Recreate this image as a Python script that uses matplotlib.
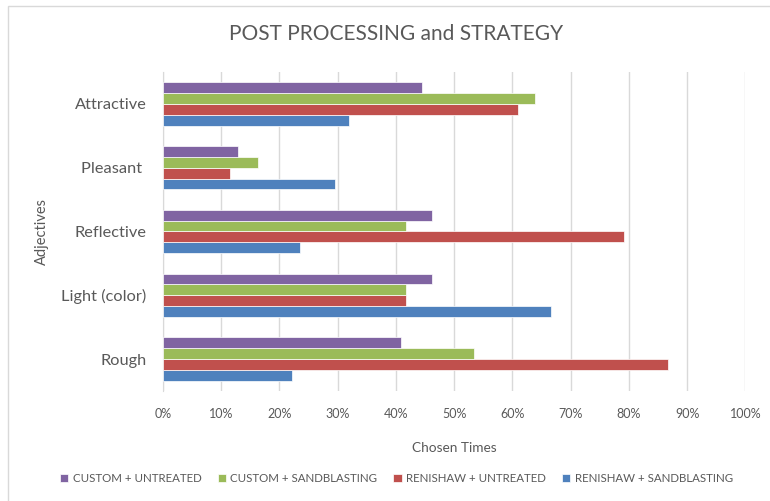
import matplotlib
matplotlib.use('Agg')
import matplotlib.pyplot as plt
from matplotlib.patches import Rectangle
import numpy as np

plt.rcParams['font.family'] = ['Lato', 'DejaVu Sans']

# data (bottom to top on the chart)
categories = ['Rough', 'Light (color)', 'Reflective', 'Pleasant ', 'Attractive']
renishaw_sandblasting = [22.1, 66.6, 23.6, 29.6, 31.9]
renishaw_untreated = [86.8, 41.7, 79.1, 11.5, 61.0]
custom_sandblasting = [53.4, 41.7, 41.7, 16.3, 63.9]
custom_untreated = [40.9, 46.2, 46.2, 12.8, 44.5]

series = [
    ('RENISHAW + SANDBLASTING', renishaw_sandblasting, '#4F81BD'),
    ('RENISHAW + UNTREATED', renishaw_untreated, '#C0504D'),
    ('CUSTOM + SANDBLASTING', custom_sandblasting, '#9BBB59'),
    ('CUSTOM + UNTREATED', custom_untreated, '#8064A2'),
]

txt = '#595959'

fig = plt.figure(figsize=(7.7, 5.01), dpi=100)
ax = fig.add_axes([0.2117, 0.2196, 0.7563, 0.6367])

# light border around the whole chart
fig.patches.append(Rectangle((8 / 770, -0.01), 1.0, 1 - 6 / 501 + 0.01,
                             transform=fig.transFigure, fill=False,
                             edgecolor='#D9D9D9', linewidth=1))

y = np.arange(len(categories))
h = 0.17
handles = {}
for i, (name, vals, col) in enumerate(series):
    b = ax.barh(y + (i - 1.5) * h, np.array(vals) / 100, height=h,
                color=col, edgecolor='white', linewidth=0.5, zorder=3)
    handles[name] = b

ax.set_xlim(0, 1)
ax.set_ylim(-0.5, len(categories) - 0.5)
ax.set_xticks(np.arange(0, 1.01, 0.1))
ax.set_xticklabels([f'{int(round(v * 100))}%' for v in np.arange(0, 1.01, 0.1)])
ax.set_yticks(y)
ax.set_yticklabels(categories)
ax.grid(axis='x', color='#D9D9D9', linewidth=1, zorder=0)
ax.tick_params(axis='x', length=0, pad=12, labelsize=9, colors=txt)
ax.tick_params(axis='y', length=0, pad=12, labelsize=11.8, colors=txt)
for s in ['top', 'right', 'bottom']:
    ax.spines[s].set_visible(False)
ax.spines['left'].set_color('#D9D9D9')

ax.set_xlabel('Chosen Times', fontsize=9.8, color=txt, labelpad=16)
ax.set_ylabel('Adjectives', fontsize=10.5, color=txt, labelpad=9)
fig.suptitle('POST PROCESSING and STRATEGY', x=0.514, y=0.952,
             fontsize=15, color=txt)

order = ['CUSTOM + UNTREATED', 'CUSTOM + SANDBLASTING',
         'RENISHAW + UNTREATED', 'RENISHAW + SANDBLASTING']
leg = fig.legend([handles[n] for n in order], order, loc='center',
                 bbox_to_anchor=(0.515, 0.045), ncol=4, frameon=False,
                 fontsize=8.3, handlelength=0.7, handleheight=0.7,
                 handletextpad=0.4, columnspacing=1.4)
for t in leg.get_texts():
    t.set_color(txt)

fig.savefig('out.png', dpi=100)
